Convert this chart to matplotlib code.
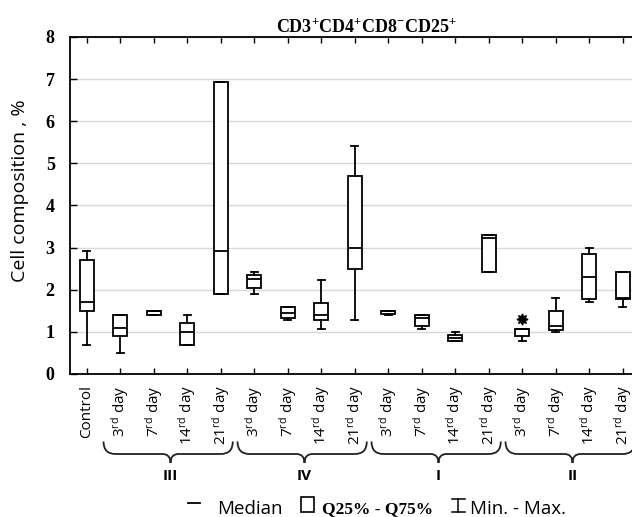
import matplotlib
matplotlib.use('Agg')
import matplotlib.pyplot as plt
import matplotlib.transforms as mtransforms
from matplotlib.path import Path
from matplotlib.patches import PathPatch, Rectangle
from matplotlib.lines import Line2D

plt.rcParams['font.family'] = ['Open Sans', 'DejaVu Sans']
plt.rcParams['mathtext.default'] = 'regular'

# ---------------- data ----------------
days = ['3', '7', '14', '21']
groups = ['III', 'IV', 'I', 'II']
tick_labels = ['Control'] + [d + '$^{rd}$ day' for g in groups for d in days]

whislo = [0.70, 0.49, 1.40, 0.70, 1.91, 1.91, 1.29, 1.08, 1.29, 1.40, 1.08, 0.78, 2.41, 0.78, 0.99, 1.70, 1.58]
q1     = [1.50, 0.90, 1.40, 0.70, 1.91, 2.05, 1.34, 1.29, 2.49, 1.42, 1.13, 0.78, 2.41, 0.90, 1.04, 1.79, 1.79]
med    = [1.70, 1.10, 1.50, 1.00, 2.92, 2.25, 1.44, 1.41, 3.00, 1.50, 1.32, 0.86, 3.22, 1.06, 1.13, 2.30, 1.80]
q3     = [2.71, 1.41, 1.50, 1.20, 6.93, 2.35, 1.58, 1.69, 4.71, 1.50, 1.41, 0.93, 3.30, 1.08, 1.50, 2.85, 2.41]
whishi = [2.92, 1.41, 1.50, 1.41, 6.93, 2.42, 1.60, 2.22, 5.42, 1.50, 1.41, 1.00, 3.30, 1.08, 1.80, 3.00, 2.41]
fliers = [[], [], [], [], [], [], [], [], [], [], [], [], [], [1.31], [], [], []]

y_ticks = [0, 1, 2, 3, 4, 5, 6, 7, 8]
title = r'CD3$^{+}$CD4$^{+}$CD8$^{-}$CD25$^{+}$'
ylabel = 'Cell composition , %'

# ---------------- figure ----------------
W, H = 632, 517
fig = plt.figure(figsize=(W / 100, H / 100), dpi=100)
ax = fig.add_axes([70 / W, 143 / H, 569.5 / W, 337 / H])

n = len(tick_labels)
positions = list(range(n))
stats = []
for i in range(n):
    stats.append(dict(whislo=whislo[i], q1=q1[i], med=med[i], q3=q3[i],
                      whishi=whishi[i], fliers=fliers[i]))

lw = 1.3
ax.bxp(stats, positions=positions, widths=0.43, capwidths=0.22,
       patch_artist=True,
       boxprops=dict(facecolor='white', edgecolor='black', linewidth=lw),
       whiskerprops=dict(color='black', linewidth=lw),
       capprops=dict(color='black', linewidth=lw),
       medianprops=dict(color='black', linewidth=lw),
       flierprops=dict(marker=(8, 1, 0), markerfacecolor='black',
                       markeredgecolor='black', markersize=8))

ax.set_xlim(-0.5, n - 0.5)
ax.set_ylim(0, 8)
ax.set_yticks(y_ticks)
ax.set_yticklabels([str(v) for v in y_ticks], fontfamily='Liberation Serif',
                   fontweight='bold', fontsize=13)
ax.set_xticks(positions)
ax.set_xticklabels(tick_labels, rotation=90, fontsize=11, va='top')
ax.tick_params(axis='x', direction='in', length=4, width=1, top=True, pad=8)
ax.tick_params(axis='y', direction='in', length=5, width=1, pad=11)
for s in ['left', 'top', 'bottom']:
    ax.spines[s].set_linewidth(1.3)
ax.spines['right'].set_visible(False)
ax.set_axisbelow(True)
ax.yaxis.grid(True, color='#d9d9d9', linewidth=1)

# title and y label
fig.text(367 / W, 1 - 32 / H, title, ha='center', va='baseline',
         fontfamily='Liberation Serif', fontweight='bold', fontsize=13)
fig.text(20 / W, 1 - 190.5 / H, ylabel, rotation=90, ha='center', va='center',
         fontsize=14)

# braces and group labels
blend = mtransforms.blended_transform_factory(ax.transData, fig.transFigure)
ytop, yarm, ytip = 1 - 441.5 / H, 1 - 454 / H, 1 - 463 / H
r_end, r_tip = 0.36, 0.24
for gi, g in enumerate(groups):
    first = 1 + gi * 4
    last = first + 3
    xl, xr = first - 0.5, last + 0.36
    xc = (first + last) / 2
    verts = [(xl, ytop), (xl, yarm), (xl + r_end, yarm),
             (xc - r_tip, yarm), (xc, yarm), (xc, ytip),
             (xc, yarm), (xc + r_tip, yarm),
             (xr - r_end, yarm), (xr, yarm), (xr, ytop)]
    codes = [Path.MOVETO, Path.CURVE3, Path.CURVE3,
             Path.LINETO, Path.CURVE3, Path.CURVE3,
             Path.CURVE3, Path.CURVE3,
             Path.LINETO, Path.CURVE3, Path.CURVE3]
    patch = PathPatch(Path(verts, codes), fill=False, edgecolor='#222222',
                      linewidth=1.3, transform=blend, clip_on=False)
    fig.add_artist(patch)
    ax.text(xc, 1 - 475.5 / H, g, transform=blend, ha='center', va='center',
            fontweight='bold', fontsize=11, clip_on=False)

# legend
fig.add_artist(Line2D([188 / W, 200 / W], [1 - 502.5 / H] * 2, transform=fig.transFigure,
                      color='black', linewidth=1.3))
fig.text(216.7 / W, 1 - 513.5 / H, 'Median', ha='left', va='baseline', fontsize=13.5)
fig.add_artist(Rectangle((300.5 / W, 1 - 511.5 / H), 13 / W, 14.5 / H, fill=False,
                         edgecolor='black', linewidth=1.2, transform=fig.transFigure))
fig.text(321.7 / W, 1 - 513 / H, 'Q25% - Q75%', ha='left', va='baseline',
         fontfamily='Liberation Serif', fontweight='bold', fontsize=12.5)
fig.add_artist(Line2D([458 / W, 458 / W], [1 - 498.5 / H, 1 - 511.5 / H],
                      transform=fig.transFigure, color='black', linewidth=1.1))
for yy in (498.5, 511.5):
    fig.add_artist(Line2D([452 / W, 464.5 / W], [1 - yy / H] * 2,
                          transform=fig.transFigure, color='black', linewidth=1.1))
fig.text(470 / W, 1 - 513.5 / H, 'Min. - Max.', ha='left', va='baseline', fontsize=13.5)

fig.savefig('out.png', dpi=100)
